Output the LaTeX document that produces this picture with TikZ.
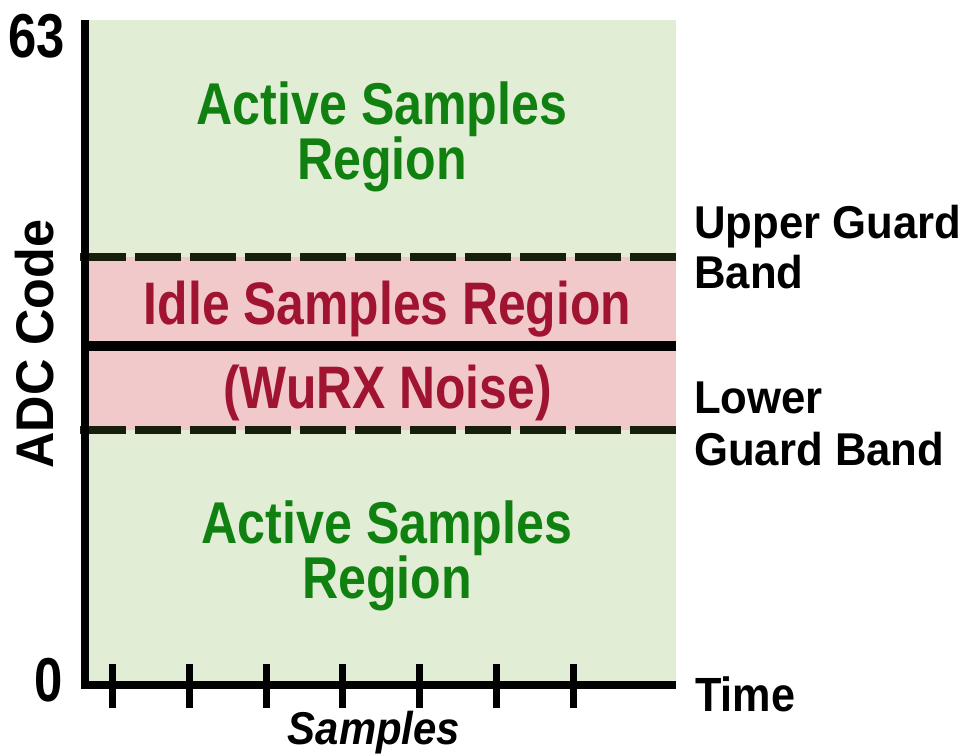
\documentclass[tikz,border=0pt]{standalone}
\usepackage{fontspec}
\setmainfont{Liberation Sans}
\newfontfamily\regionfont[FakeStretch=0.85]{Liberation Sans}
\newfontfamily\idlefont[FakeStretch=0.83]{Liberation Sans}
\newfontfamily\labelfont[FakeStretch=0.95]{Liberation Sans}
\newfontfamily\timefont[FakeStretch=0.9]{Liberation Sans}
\newfontfamily\samplefont[FakeStretch=0.91]{Liberation Sans}
\newfontfamily\axisfont[FakeStretch=0.95]{Liberation Sans}
\newfontfamily\digitfont[FakeStretch=0.82]{Liberation Sans}
\definecolor{activefill}{RGB}{226,237,213}
\definecolor{idlefill}{RGB}{241,201,202}
\definecolor{activetext}{RGB}{16,128,16}
\definecolor{idletext}{RGB}{160,20,50}
\definecolor{guardline}{RGB}{24,30,12}
\begin{document}
\begin{tikzpicture}[x=1pt,y=-1pt,
  activelbl/.style={anchor=base,inner sep=0pt,text=activetext,
    font=\regionfont\bfseries\fontsize{59}{59}\selectfont},
  idlelbl/.style={anchor=base,inner sep=0pt,text=idletext,
    font=\idlefont\bfseries\fontsize{60}{60}\selectfont},
  bandlbl/.style={anchor=base west,inner sep=0pt,
    font=\labelfont\bfseries\fontsize{46}{46}\selectfont},
  guard/.style={line width=8pt,draw=guardline,dash pattern=on 46pt off 9pt},
  axisline/.style={line width=8pt,black},
  tickline/.style={line width=7pt,black}]
\useasboundingbox (0,0) rectangle (962,754);

% regions
\fill[activefill] (85,20) rectangle (676,685);
\fill[idlefill] (85,257) rectangle (676,430);

% guard band borders and threshold
\draw[guard] (80,257) -- (676,257);
\draw[guard] (80,430) -- (676,430);
\draw[line width=9pt,black] (85,346) -- (676,346);

% axes
\draw[axisline] (85,20) -- (85,689);
\draw[axisline] (81,685) -- (676,685);
\foreach \tx in {112.5,189.25,266,342.75,419.5,496.25,573}
  \draw[tickline] (\tx,664) -- (\tx,708);

% region labels
\node[activelbl] (act1) at (382,125) {Active Samples};
\node[activelbl] (act2) at (382,180) {Region};
\node[activelbl] (act3) at (387,543) {Active Samples};
\node[activelbl] (act4) at (387,598) {Region};
\node[idlelbl] (idle1) at (387.5,325) {Idle Samples Region};
\node[idlelbl] (idle2) at (387.5,408) {(WuRX Noise)};

% guard band labels
\node[bandlbl] (ug1) at (694,239) {Upper Guard};
\node[bandlbl] (ug2) at (694,289) {Band};
\node[bandlbl] (lg1) at (694,413) {Lower};
\node[bandlbl] (lg2) at (694,465) {Guard Band};

% axis labels
\node[anchor=base east,inner sep=0pt,font=\digitfont\bfseries\fontsize{62}{62}\selectfont] (top) at (65,58) {63};
\node[anchor=base,inner sep=0pt,font=\digitfont\bfseries\fontsize{62}{62}\selectfont] (zero) at (48.5,701) {0};
\node[anchor=base west,inner sep=0pt,font=\timefont\bfseries\fontsize{48}{48}\selectfont] (time) at (695,711) {Time};
\node[anchor=base,inner sep=0pt,font=\samplefont\bfseries\itshape\fontsize{46}{46}\selectfont] (samples) at (374,744) {Samples};
\node[anchor=base,rotate=90,inner sep=0pt,font=\axisfont\bfseries\fontsize{53}{53}\selectfont] (adc) at (53,344) {ADC Code};
\end{tikzpicture}
\end{document}
